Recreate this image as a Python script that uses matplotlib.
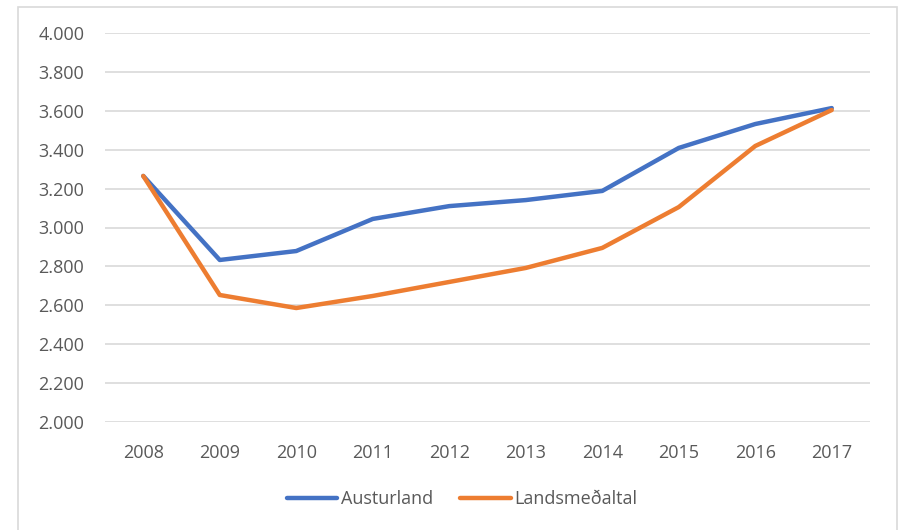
import numpy as np
import matplotlib.pyplot as plt
from matplotlib.patches import Rectangle
from matplotlib.ticker import FuncFormatter

years = ['2008', '2009', '2010', '2011', '2012', '2013', '2014', '2015', '2016', '2017']
austurland = [3.265, 2.833, 2.879, 3.044, 3.110, 3.141, 3.188, 3.409, 3.532, 3.614]
landsmedaltal = [3.265, 2.653, 2.586, 2.648, 2.720, 2.792, 2.895, 3.105, 3.419, 3.604]

plt.rcParams['font.family'] = ['Open Sans', 'DejaVu Sans']
txt = '#595959'
fs = 13

fig = plt.figure(figsize=(8.99, 5.30), dpi=100)
# outer chart frame
fig.patches.append(Rectangle((18 / 899, -0.05), 879 / 899, 1 - 7 / 530 + 0.05,
                             transform=fig.transFigure, fill=False,
                             edgecolor='#D9D9D9', linewidth=1.2))

ax = fig.add_axes([105 / 899, 1 - 422 / 530, 765 / 899, 389 / 530])
x = np.arange(len(years))
ax.plot(x, austurland, color='#4472C4', lw=3.2, solid_capstyle='round',
        solid_joinstyle='round', label='Austurland')
ax.plot(x, landsmedaltal, color='#ED7D31', lw=3.2, solid_capstyle='round',
        solid_joinstyle='round', label='Landsmeðaltal')

ax.set_xlim(-0.5, len(years) - 0.5)
ax.set_ylim(2.0, 4.0)
ax.set_yticks(np.arange(2.0, 4.01, 0.2))
ax.yaxis.set_major_formatter(FuncFormatter(lambda v, p: f'{v:.3f}'))
ax.set_xticks(x)
ax.set_xticklabels(years)
ax.grid(axis='y', color='#D9D9D9', lw=1.2)
ax.set_axisbelow(True)
for s in ax.spines.values():
    s.set_visible(False)
ax.tick_params(length=0, colors=txt, labelsize=fs)
ax.tick_params(axis='y', pad=15)
ax.tick_params(axis='x', pad=15.5)

leg = fig.legend(loc='center', bbox_to_anchor=(462 / 899, 1 - 499 / 530), ncol=2,
                 frameon=False, fontsize=fs, handlelength=2.8, handletextpad=0.2,
                 columnspacing=1.5)
for t in leg.get_texts():
    t.set_color(txt)

fig.savefig('out.png', dpi=100)
